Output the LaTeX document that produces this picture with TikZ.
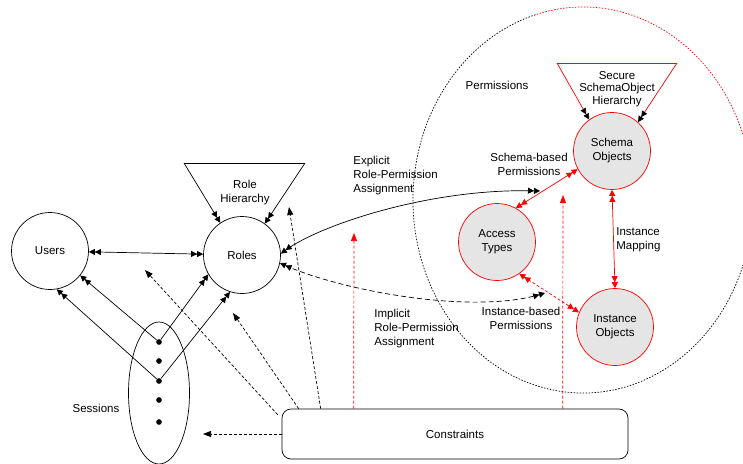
\documentclass[tikz,border=0pt]{standalone}
\usepackage{fontspec}
\setmainfont{Liberation Sans}
\usetikzlibrary{arrows.meta,positioning,shapes.geometric}

\tikzset{
  dbl/.tip={Triangle[length=6pt,width=6pt]Triangle[length=6pt,width=6pt]},
  dblk/.tip={Triangle[length=6pt,width=6pt,color=black]Triangle[length=6pt,width=6pt,color=black]},
  one/.tip={Triangle[length=8pt,width=6pt]},
  ent/.style={circle,draw,minimum size=77pt,inner sep=0pt,align=center},
  perm/.style={ent,draw=red,fill=gray!20},
  txt/.style={align=center,inner sep=0pt},
  cdash/.style={dash pattern=on 3pt off 2pt},
  bigdash/.style={dash pattern=on 1.5pt off 1.5pt},
}

\begin{document}
\begin{tikzpicture}[x=1pt,y=-1pt,line width=0.7pt,
  every node/.style={font=\fontsize{11.5}{14}\selectfont}]
 \useasboundingbox (0,0) rectangle (743,463);
 % permissions area
 \draw[red,bigdash] (583,200) ++(-105.8:170 and 193) arc[start angle=-105.8,end angle=15,x radius=170,y radius=193];
 \draw[bigdash] (583,200) ++(15:170 and 193) arc[start angle=15,end angle=254.2,x radius=170,y radius=193];
 \node[txt] (permlbl) at (497,85) {Permissions};

 % entities
 \node[ent] (users) at (50,251) {Users};
 \node[ent] (roles) at (242,255) {Roles};
 \node[perm] (so) at (612,151) {Schema\\Objects};
 \node[perm] (at) at (497,242) {Access\\Types};
 \node[perm] (io) at (615,327) {Instance\\Objects};

 % sessions
 \node[ellipse,draw,minimum width=61pt,minimum height=142pt,inner sep=0pt] (sessions) at (159,393) {};
 \foreach \i/\y in {1/342,2/361,3/381,4/400,5/422}
   \node[circle,fill,inner sep=2pt] (d\i) at (159,\y) {};
 \node[txt] (seslbl) at (96,408) {Sessions};

 % role hierarchy
 \coordinate (rh1) at (184,163);
 \coordinate (rh2) at (305,163);
 \draw (rh1) -- (rh2);
 \draw[-dbl] (rh1) -- (roles.124);
 \draw[-dbl] (rh2) -- (roles.54);
 \node[txt] (rhlbl) at (245,193) {Role\\Hierarchy};

 % secure schema object hierarchy
 \coordinate (sh1) at (557,63);
 \coordinate (sh2) at (677,63);
 \draw[red] (sh1) -- (sh2);
 \draw[red,-dblk] (sh1) -- (so.126);
 \draw[red,-dblk] (sh2) -- (so.48);
 \node[txt,font=\fontsize{11.5}{12.5}\selectfont] (shlbl) at (617,89) {Secure\\SchemaObject\\Hierarchy};

 % assignments
 \draw[dbl-dbl] (users) -- (roles);
 \draw[-dbl] (d1) -- (users.321);
 \draw[-dbl] (d1) -- (roles.210);
 \draw[-dbl] (d3) -- (users.280);
 \draw[-dbl] (d3) -- (roles.252);

 \coordinate (expl) at (540,191);
 \coordinate (impl) at (545,293);
 \draw[dbl-dbl] (roles.2) .. controls (320,225) and (430,188) .. (expl);
 \draw[dbl-dbl,dash pattern=on 5pt off 3pt] (roles.-12) .. controls (340,290) and (470,315) .. (impl);
 \node[txt,align=left,anchor=west] (explbl) at (353,176) {Explicit\\Role-Permission\\Assignment};
 \node[txt,align=left,anchor=west] (impllbl) at (374,329) {Implicit\\Role-Permission\\Assignment};

 % permissions
 \draw[red,dbl-dbl] (at.61) -- (so.208);
 \draw[red,dbl-dbl] (so.south) -- (io.north);
 \draw[red,dbl-dbl,cdash] (at.-55) -- (io.158);
 \node[txt] (sblbl) at (529,164) {Schema-based\\Permissions};
 \node[txt,align=left,anchor=west] (imlbl) at (616,240) {Instance\\Mapping};
 \node[txt] (iblbl) at (521,318) {Instance-based\\Permissions};

 % constraints
 \node[draw,rounded corners=9pt,minimum width=346pt,minimum height=50pt] (cons) at (455,434) {Constraints};
 \coordinate (c1) at (203,434);
 \coordinate (c2) at (145,270);
 \coordinate (c3) at (233,313);
 \coordinate (c4) at (289,207);
 \coordinate (c5) at (354,233);
 \coordinate (c6) at (563,195);
 \draw[cdash,-one] (cons.west) -- (c1);
 \draw[cdash,-one] ([shift={(-4pt,-6pt)}]cons.north west) -- (c2);
 \draw[cdash,-one] ([xshift=17pt]cons.north west) -- (c3);
 \draw[cdash,-one] ([xshift=39pt]cons.north west) -- (c4);
 \draw[cdash,red,-one] ([xshift=72pt]cons.north west) -- (c5);
 \draw[cdash,red,-one] ([xshift=281pt]cons.north west) -- (c6);
\end{tikzpicture}
\end{document}
